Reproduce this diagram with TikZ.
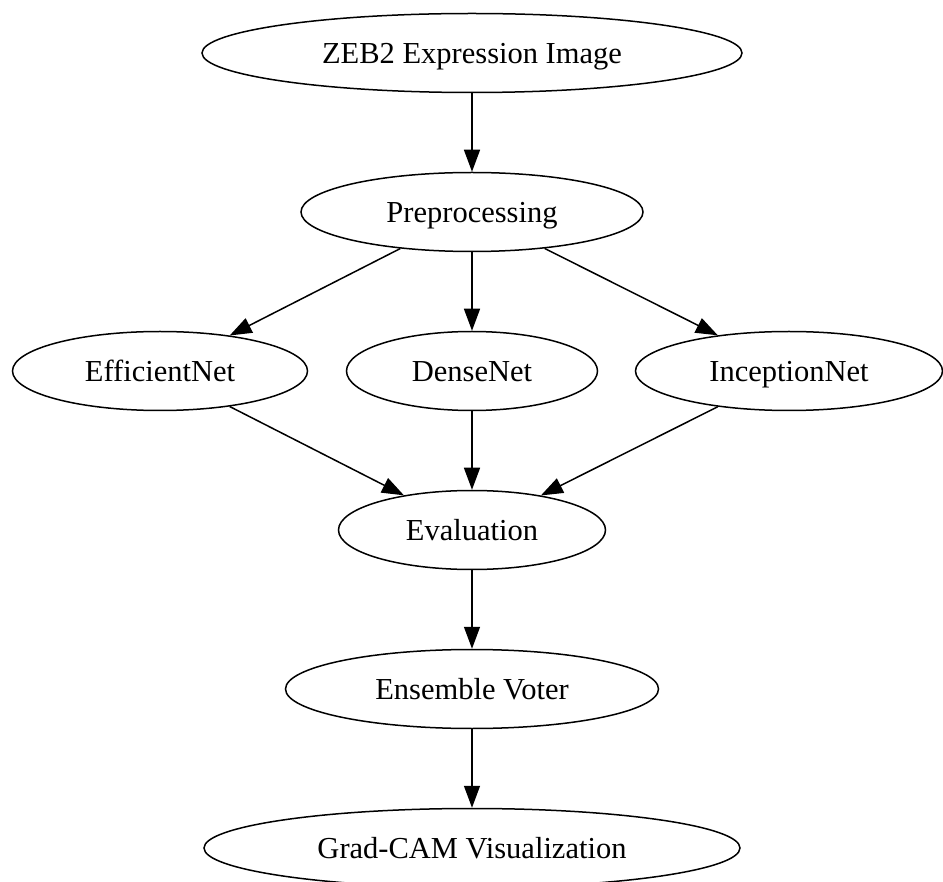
\documentclass[tikz,border=0pt]{standalone}
\usepackage{fontspec}
\setmainfont{Liberation Serif}
\usetikzlibrary{shapes.geometric,arrows.meta}
\begin{document}
\begin{tikzpicture}[x=1pt,y=-1pt,
  stage/.style={ellipse,draw=black,line width=1.5pt,inner sep=0pt,
    minimum height=79pt,text height=20.2pt,text depth=0pt,
    font=\fontsize{30.5}{36}\selectfont},
  flow/.style={draw=black,line width=1.5pt,-{Triangle[length=22pt,width=16pt]}}]
\useasboundingbox (0,0) rectangle (943,882);
\node[stage,minimum width=540pt] (zeb)  at (472,53)  {ZEB2 Expression Image};
\node[stage,minimum width=342pt] (pre)  at (472,212) {Preprocessing};
\node[stage,minimum width=295pt] (eff)  at (160,371) {EfficientNet};
\node[stage,minimum width=251pt] (den)  at (472,371) {DenseNet};
\node[stage,minimum width=307pt] (inc)  at (789,371) {InceptionNet};
\node[stage,minimum width=267pt] (eva)  at (472,530) {Evaluation};
\node[stage,minimum width=373pt] (ens)  at (472,689) {Ensemble Voter};
\node[stage,minimum width=536pt] (grad) at (472,848) {Grad-CAM Visualization};
\draw[flow] (zeb) -- (pre);
\draw[flow] (pre) -- (eff);
\draw[flow] (pre) -- (den);
\draw[flow] (pre) -- (inc);
\draw[flow] (eff) -- (eva);
\draw[flow] (den) -- (eva);
\draw[flow] (inc) -- (eva);
\draw[flow] (eva) -- (ens);
\draw[flow] (ens) -- (grad);
\end{tikzpicture}
\end{document}
